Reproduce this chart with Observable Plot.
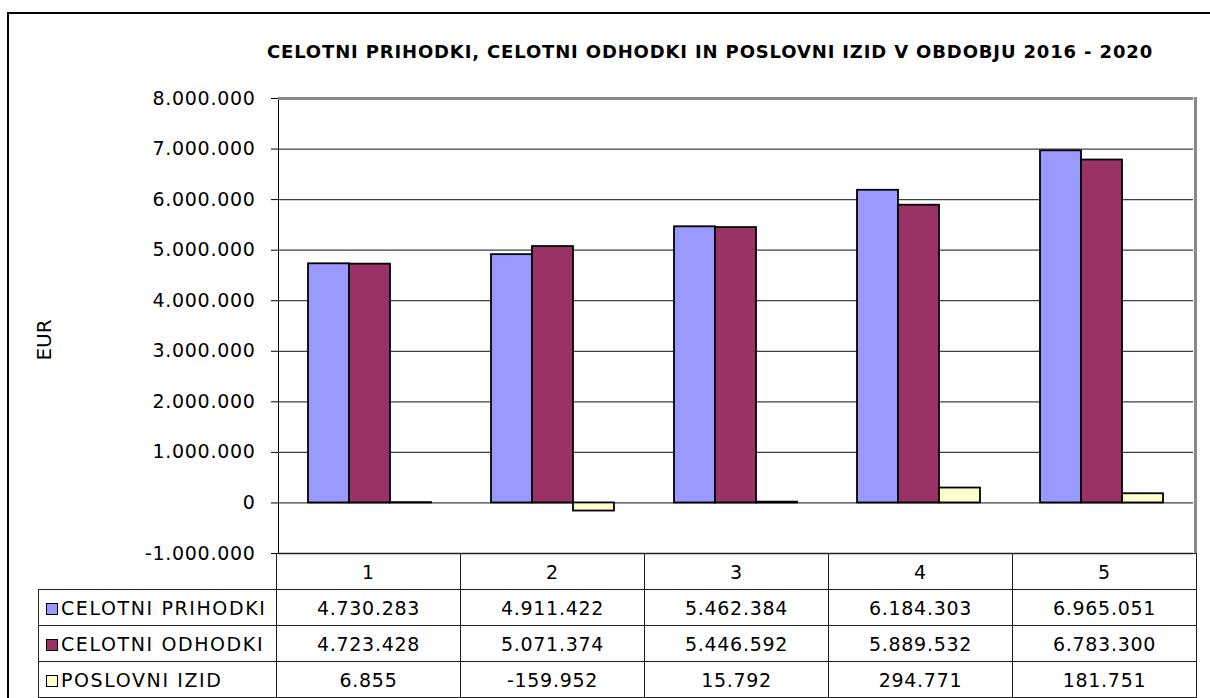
<!DOCTYPE html>
<html><head><meta charset="utf-8">
<script src="https://cdn.jsdelivr.net/npm/d3@7"></script>
<script src="https://cdn.jsdelivr.net/npm/@observablehq/plot@0.6"></script>
<style>
body{margin:0;background:#fff;}
#wrap{position:relative;width:1210px;height:698px;overflow:hidden;font-family:"DejaVu Sans",sans-serif;color:#000;}
#box{position:absolute;left:7px;top:12px;width:1300px;height:800px;border-left:2px solid #000;border-top:2px solid #000;}
#title{position:absolute;left:0;width:1420px;top:42px;text-align:center;font-weight:bold;font-size:18px;letter-spacing:0.85px;line-height:20px;white-space:nowrap;}
#ylab{position:absolute;left:44px;top:340px;width:0;height:0;}
#ylab span{position:absolute;left:0;top:0;transform:translate(-50%,-50%) rotate(-90deg);font-size:20px;line-height:20px;white-space:nowrap;}
#chart{position:absolute;left:0;top:0;}
#tbl{position:absolute;left:38px;top:553px;border-collapse:collapse;table-layout:fixed;width:1158px;font-size:19px;letter-spacing:0.7px;}
#tbl td{border:1.5px solid #222;height:35px;padding:0;text-align:center;white-space:nowrap;overflow:hidden;}
#tbl td.lab{text-align:left;padding-left:7px;letter-spacing:1.6px;}
#tbl td.empty{border:none;}
.sw{display:inline-block;width:10px;height:10px;border:1.3px solid #000;margin-right:3px;vertical-align:0px;}
</style></head>
<body>
<div id="wrap">
  <div id="box"></div>
  <div id="chart"></div>
  <div id="title"></div>
  <div id="ylab"><span></span></div>
  <table id="tbl"><colgroup><col style="width:238px"><col style="width:184px"><col style="width:184px"><col style="width:184px"><col style="width:184px"><col style="width:184px"></colgroup></table>
</div>
<script>
const title = "CELOTNI PRIHODKI, CELOTNI ODHODKI IN POSLOVNI IZID V OBDOBJU 2016 - 2020";
const categories = ["1", "2", "3", "4", "5"];
const seriesNames = ["CELOTNI PRIHODKI", "CELOTNI ODHODKI", "POSLOVNI IZID"];
const prihodki = [4730283, 4911422, 5462384, 6184303, 6965051];
const odhodki = [4723428, 5071374, 5446592, 5889532, 6783300];
const izid = [6855, -159952, 15792, 294771, 181751];
const colors = ["#9999FF", "#993366", "#FFFFCC"];
const yTicks = [-1000000, 0, 1000000, 2000000, 3000000, 4000000, 5000000, 6000000, 7000000, 8000000];
const yLabel = "EUR";

const seriesValues = [prihodki, odhodki, izid];
const rows = [];
categories.forEach((c, i) => seriesNames.forEach((s, j) => rows.push({cat: c, series: s, value: seriesValues[j][i]})));

const fmt = d3.formatLocale({decimal: ",", thousands: ".", grouping: [3], currency: ["", ""], minus: "-"}).format(",d");

document.getElementById("title").textContent = title;
document.querySelector("#ylab span").textContent = yLabel;

const chart = Plot.plot({
  width: 1210, height: 698,
  marginLeft: 276, marginRight: 15, marginTop: 98, marginBottom: 145,
  style: {fontFamily: "DejaVu Sans", fontSize: "19px", color: "#000", background: "transparent", letterSpacing: "0.7px"},
  fx: {domain: categories, padding: 0, axis: null},
  x: {domain: seriesNames, paddingInner: 0, paddingOuter: 0.73, axis: null},
  y: {domain: [-1000000, 8000000], ticks: yTicks, tickFormat: fmt, label: null, tickSize: 7, tickPadding: 16, line: true},
  color: {domain: seriesNames, range: colors},
  marks: [
    Plot.gridY(yTicks, {stroke: "#404040", strokeOpacity: 1, strokeWidth: 1.2}),
    Plot.ruleY([8000000], {stroke: "#888", strokeWidth: 3}),
    Plot.ruleY([-1000000], {stroke: "#222", strokeWidth: 1.5}),
    Plot.barY(rows, {fx: "cat", x: "series", y: "value", fill: "series", stroke: "#000", strokeWidth: 1.8})
  ]
});
d3.select(chart).append("line")
  .attr("x1", 1195.5).attr("x2", 1195.5).attr("y1", 97).attr("y2", 553)
  .attr("stroke", "#888").attr("stroke-width", 3);
document.getElementById("chart").appendChild(chart);

// data table
const tbl = d3.select("#tbl");
const head = tbl.append("tr");
head.append("td").attr("class", "empty");
categories.forEach(c => head.append("td").text(c));
seriesNames.forEach((s, j) => {
  const tr = tbl.append("tr");
  const td = tr.append("td").attr("class", "lab");
  td.append("span").attr("class", "sw").style("background", colors[j]);
  td.append("span").text(s);
  seriesValues[j].forEach(v => tr.append("td").text(fmt(v)));
});
</script>
</body></html>
